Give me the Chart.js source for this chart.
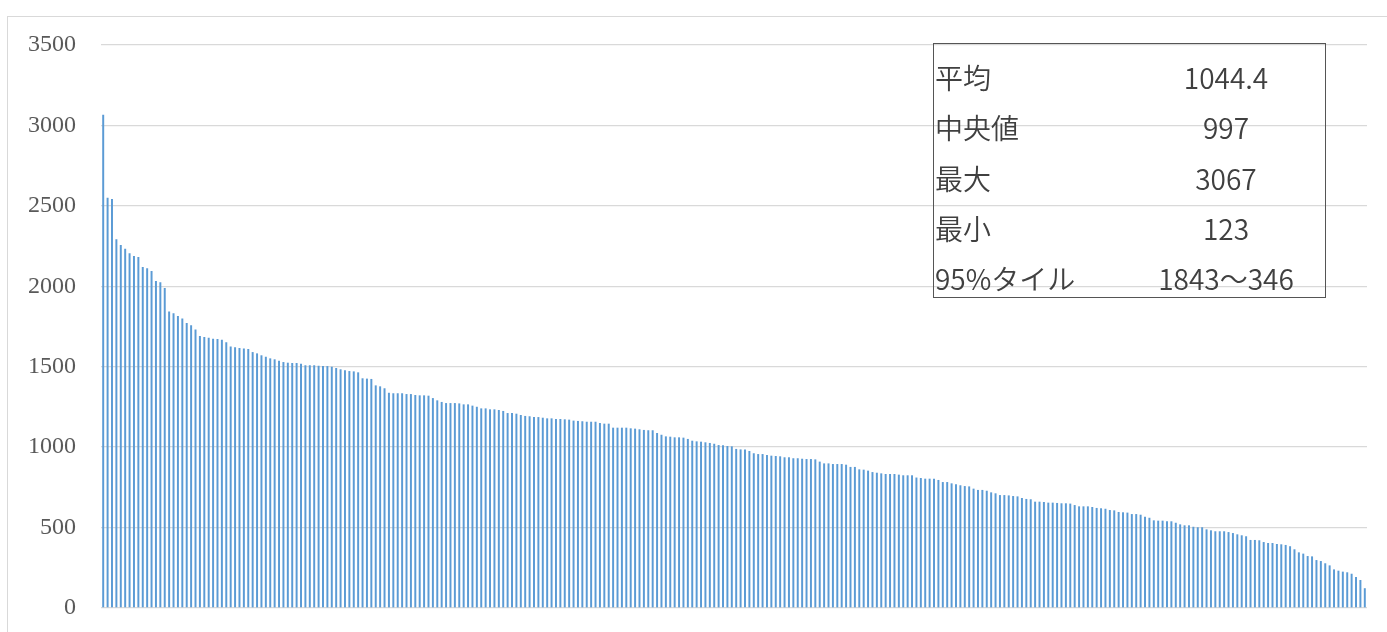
<!DOCTYPE html>
<html lang="ja">
<head>
    <meta charset="UTF-8">
    <title>分布</title>
    <style>
        html, body {
            margin: 0;
            padding: 0;
            background-color: #fff;
            overflow: hidden;
        }
        .frame {
            position: absolute;
            left: 7px;
            top: 16px;
            width: 1500px;
            height: 800px;
            border: 1px solid #d9d9d9;
        }
        #distChart {
            position: absolute;
            left: 0;
            top: 0;
        }
        .stats {
            position: absolute;
            left: 933px;
            top: 43px;
            width: 393px;
            height: 255px;
            box-sizing: border-box;
            border: 1.5px solid #555;
            font-family: 'Noto Sans CJK JP', sans-serif;
            font-weight: 350;
            font-size: 28px;
            color: #404040;
        }
        .stats .row {
            position: absolute;
            left: 0;
            width: 100%;
            height: 50px;
            line-height: 50px;
            white-space: nowrap;
        }
        .stats .k {
            position: absolute;
            left: 1px;
        }
        .stats .v {
            position: absolute;
            left: 192px;
            width: 200px;
            text-align: center;
        }
    </style>
    <script src="https://cdn.jsdelivr.net/npm/chart.js"></script>
</head>
<body>
    <div class="frame"></div>
    <canvas id="distChart" width="1387" height="632"></canvas>
    <div class="stats" id="stats"></div>
    <script>
        // 値 (降順)
        const values = [
            3067, 2551, 2543, 2292, 2256, 2234, 2205, 2188, 2182, 2120,
            2112, 2095, 2033, 2025, 1989, 1843, 1832, 1815, 1799, 1772,
            1757, 1732, 1691, 1685, 1680, 1674, 1672, 1668, 1652, 1625,
            1621, 1616, 1614, 1610, 1591, 1583, 1571, 1562, 1552, 1546,
            1537, 1529, 1525, 1523, 1523, 1519, 1509, 1509, 1509, 1506,
            1504, 1504, 1500, 1492, 1484, 1478, 1473, 1471, 1465, 1428,
            1426, 1424, 1384, 1378, 1366, 1338, 1335, 1335, 1335, 1330,
            1330, 1324, 1322, 1322, 1320, 1305, 1291, 1281, 1274, 1274,
            1274, 1272, 1266, 1266, 1258, 1251, 1241, 1241, 1235, 1235,
            1231, 1225, 1212, 1212, 1208, 1200, 1194, 1192, 1187, 1187,
            1183, 1179, 1179, 1175, 1175, 1173, 1171, 1165, 1163, 1161,
            1158, 1158, 1158, 1150, 1146, 1146, 1121, 1121, 1121, 1121,
            1117, 1115, 1111, 1107, 1105, 1105, 1088, 1077, 1067, 1065,
            1061, 1061, 1059, 1051, 1040, 1036, 1034, 1030, 1026, 1021,
            1013, 1011, 1007, 1005, 989, 986, 986, 976, 962, 957,
            957, 951, 947, 945, 943, 937, 937, 931, 931, 928,
            926, 926, 924, 910, 899, 899, 895, 895, 895, 891,
            877, 877, 862, 860, 854, 845, 841, 837, 833, 833,
            833, 829, 825, 825, 825, 811, 808, 804, 804, 804,
            796, 783, 783, 775, 769, 763, 758, 756, 742, 734,
            734, 729, 719, 713, 702, 702, 700, 696, 694, 684,
            678, 676, 661, 661, 659, 655, 655, 653, 651, 651,
            649, 640, 632, 632, 632, 628, 622, 620, 617, 609,
            607, 597, 595, 593, 584, 584, 580, 568, 561, 545,
            543, 543, 539, 539, 530, 520, 514, 514, 505, 502,
            502, 489, 483, 477, 477, 477, 472, 466, 458, 452,
            446, 423, 423, 421, 410, 404, 404, 398, 396, 392,
            384, 365, 346, 338, 323, 321, 298, 292, 278, 265,
            240, 232, 226, 222, 213, 193, 174, 123
        ];
        const categories = values.map((_, i) => String(i + 1));

        // 縦軸
        const yMin = 0;
        const yMax = 3500;
        const yStep = 500;

        // 統計表
        const statLabels = ['平均', '中央値', '最大', '最小', '95%タイル'];
        const statValues = ['1044.4', '997', '3067', '123', '1843～346'];

        const statsBox = document.getElementById('stats');
        statLabels.forEach((label, i) => {
            const row = document.createElement('div');
            row.className = 'row';
            row.style.top = (8 + i * 50.3) + 'px';
            row.innerHTML = `<span class="k">${label}</span><span class="v">${statValues[i]}</span>`;
            statsBox.appendChild(row);
        });

        const ctx = document.getElementById('distChart').getContext('2d');
        new Chart(ctx, {
            type: 'bar',
            data: {
                labels: categories,
                datasets: [{
                    data: values,
                    backgroundColor: '#5B9BD5',
                    barPercentage: 0.45,
                    categoryPercentage: 1.0
                }]
            },
            options: {
                responsive: false,
                animation: false,
                layout: {
                    padding: { left: 0, right: 20, top: 45, bottom: 24 }
                },
                plugins: {
                    legend: { display: false },
                    tooltip: { enabled: false }
                },
                scales: {
                    x: {
                        display: false,
                        afterFit: (scale) => { scale.height = 0; }
                    },
                    y: {
                        min: yMin,
                        max: yMax,
                        afterFit: (scale) => {
                            scale.width = 101;
                            scale.paddingTop = 0;
                            scale.paddingBottom = 0;
                        },
                        border: { display: false },
                        grid: {
                            color: '#d9d9d9',
                            lineWidth: 1.3,
                            drawTicks: false
                        },
                        ticks: {
                            stepSize: yStep,
                            padding: 25,
                            color: '#595959',
                            font: { family: "'Liberation Serif', serif", size: 24 },
                            callback: (v) => String(v)
                        }
                    }
                }
            }
        });
    </script>
</body>
</html>
